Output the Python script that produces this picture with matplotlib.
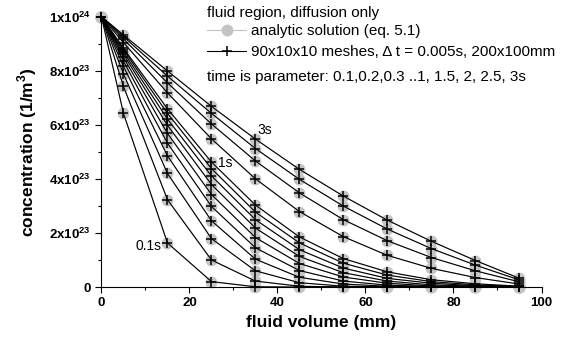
import numpy as np
import matplotlib.pyplot as plt
from matplotlib.lines import Line2D
from matplotlib.ticker import MultipleLocator

plt.rcParams['font.family'] = ['Liberation Sans', 'DejaVu Sans']
plt.rcParams['mathtext.fontset'] = 'custom'
plt.rcParams['mathtext.rm'] = 'Liberation Sans'
plt.rcParams['mathtext.bf'] = 'Liberation Sans:bold'

# fluid volume positions (mm)
vol = [0, 5, 15, 25, 35, 45, 55, 65, 75, 85, 95]

# concentration in units of 1e24 1/m^3, one list per time
c_01 = [1.000, 0.642, 0.163, 0.020, 0.001, 0.000, 0.000, 0.000, 0.000, 0.000, 0.000]
c_02 = [1.000, 0.742, 0.323, 0.100, 0.022, 0.003, 0.000, 0.000, 0.000, 0.000, 0.000]
c_03 = [1.000, 0.788, 0.420, 0.179, 0.060, 0.016, 0.003, 0.001, 0.000, 0.000, 0.000]
c_04 = [1.000, 0.816, 0.485, 0.245, 0.103, 0.036, 0.011, 0.003, 0.001, 0.000, 0.000]
c_05 = [1.000, 0.835, 0.532, 0.298, 0.145, 0.061, 0.022, 0.007, 0.002, 0.000, 0.000]
c_06 = [1.000, 0.849, 0.568, 0.342, 0.183, 0.087, 0.037, 0.014, 0.004, 0.001, 0.000]
c_07 = [1.000, 0.860, 0.598, 0.379, 0.218, 0.113, 0.053, 0.022, 0.008, 0.003, 0.001]
c_08 = [1.000, 0.869, 0.621, 0.411, 0.249, 0.138, 0.070, 0.032, 0.014, 0.005, 0.001]
c_09 = [1.000, 0.877, 0.642, 0.438, 0.277, 0.163, 0.088, 0.044, 0.020, 0.008, 0.002]
c_10 = [1.000, 0.883, 0.659, 0.462, 0.303, 0.185, 0.105, 0.056, 0.027, 0.012, 0.003]
c_15 = [1.000, 0.904, 0.718, 0.548, 0.400, 0.279, 0.186, 0.117, 0.069, 0.035, 0.011]
c_20 = [1.000, 0.917, 0.755, 0.603, 0.466, 0.348, 0.249, 0.171, 0.109, 0.060, 0.019]
c_25 = [1.000, 0.926, 0.780, 0.642, 0.512, 0.398, 0.299, 0.214, 0.142, 0.081, 0.026]
c_30 = [1.000, 0.932, 0.799, 0.668, 0.547, 0.435, 0.336, 0.247, 0.169, 0.098, 0.032]

series = [c_01, c_02, c_03, c_04, c_05, c_06, c_07, c_08, c_09, c_10,
          c_15, c_20, c_25, c_30]

yticks = [0, 2e23, 4e23, 6e23, 8e23, 1e24]
yticklabels = ['0', r'$\mathbf{2x10^{23}}$', r'$\mathbf{4x10^{23}}$',
               r'$\mathbf{6x10^{23}}$', r'$\mathbf{8x10^{23}}$',
               r'$\mathbf{1x10^{24}}$']
xticks = [0, 20, 40, 60, 80, 100]

gray = '#c4c4c4'

fig = plt.figure(figsize=(5.7, 3.45), dpi=100)
ax = fig.add_axes([0.178, 0.168, 0.772, 0.784])

# analytic solution underneath, simulation on top
for c in series:
    ax.plot(vol, np.array(c) * 1e24, color=gray, lw=0.8, marker='o', ms=7.5,
            mfc=gray, mec=gray, clip_on=False, zorder=2)
for c in series:
    ax.plot(vol, np.array(c) * 1e24, color='k', lw=0.8, marker='+', ms=7,
            mew=1.1, clip_on=False, zorder=3)

ax.set_xlim(0, 100)
ax.set_ylim(0, 1e24)
ax.spines['top'].set_visible(False)
ax.spines['right'].set_visible(False)
ax.set_xticks(xticks)
ax.set_xticklabels([str(v) for v in xticks], fontsize=9.5, fontweight='bold')
ax.xaxis.set_minor_locator(MultipleLocator(10))
ax.set_yticks(yticks)
ax.set_yticklabels(yticklabels, fontsize=9.5, fontweight='bold')
ax.yaxis.set_minor_locator(MultipleLocator(1e23))
ax.tick_params(which='major', direction='out', length=4, width=0.8)
ax.tick_params(which='minor', direction='out', length=2.5, width=0.8)

ax.set_xlabel('fluid volume (mm)', fontsize=12.5, fontweight='bold', labelpad=4)
ax.set_ylabel(r'concentration (1/m$^{\mathbf{3}}$)', fontsize=12.5,
              fontweight='bold', labelpad=7)

# curve labels
ax.text(13.7, 0.153e24, '0.1s', ha='right', va='center', fontsize=10)
ax.text(26.5, 0.46e24, '1s', ha='left', va='center', fontsize=10)
ax.text(35.5, 0.58e24, '3s', ha='left', va='center', fontsize=10)

# legend block
fig.text(206.7 / 570, 1 - 13.3 / 345, 'fluid region, diffusion only',
         va='center', fontsize=11)
h1 = Line2D([], [], color=gray, lw=0.8, marker='o', ms=7.5, mfc=gray, mec=gray)
h2 = Line2D([], [], color='k', lw=0.8, marker='+', ms=7, mew=1.1)
ax.legend([h1, h2], ['analytic solution (eq. 5.1)',
                     '90x10x10 meshes, \u0394 t = 0.005s, 200x100mm'],
          loc='upper left', bbox_to_anchor=(206.7 / 570, 1 - 24 / 345),
          bbox_transform=fig.transFigure, frameon=False, fontsize=11,
          borderpad=0, borderaxespad=0, handlelength=2.6, handletextpad=0.3,
          labelspacing=0.45, numpoints=1)
fig.text(206.7 / 570, 1 - 76.7 / 345,
         'time is parameter: 0.1,0.2,0.3 ..1, 1.5, 2, 2.5, 3s',
         va='center', fontsize=11)

fig.savefig('out.png', dpi=100)
